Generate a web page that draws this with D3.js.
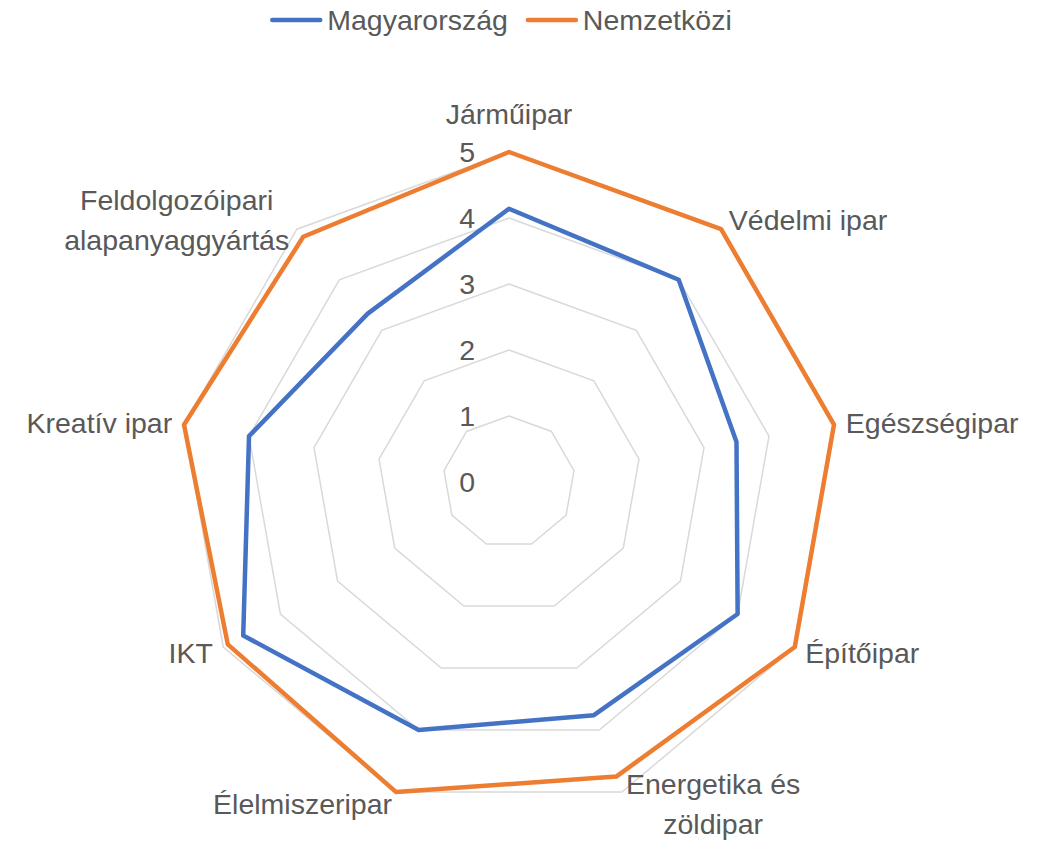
<!DOCTYPE html>
<html>
<head>
<meta charset="utf-8">
<script src="https://d3js.org/d3.v7.min.js"></script>
<style>
  html, body { margin: 0; padding: 0; background: #fff; overflow: hidden; }
  text { font-family: "Liberation Sans", Arial, sans-serif; fill: #595959; }
</style>
<title>radar</title>
</head>
<body>
<svg id="chart" width="1043" height="842"></svg>
<script>
// categories, clockwise from the top
const categories = [
  "Járműipar",
  "Védelmi ipar",
  "Egészségipar",
  "Építőipar",
  "Energetika és\nzöldipar",
  "Élelmiszeripar",
  "IKT",
  "Kreatív ipar",
  "Feldolgozóipari\nalapanyaggyártás"
];
const seriesNames = ["Magyarország", "Nemzetközi"];
const magyarorszag = [4.14, 4.0, 3.5, 4.0, 3.76, 4.0, 4.65, 4.0, 3.33];
const nemzetkozi = [5, 5, 5, 5, 4.75, 5, 4.92, 5, 4.85];
const tickValues = [0, 1, 2, 3, 4, 5];

const colors = ["#4472C4", "#ED7D31"];
const fontSize = 28.5;
const cx = 509, cy = 482, R = 330;

const svg = d3.select("#chart");

const r = d3.scaleLinear().domain([0, 5]).range([0, R]);
const angle = d3.scaleLinear().domain([0, categories.length]).range([0, 2 * Math.PI]);

const g = svg.append("g").attr("transform", "translate(" + cx + "," + cy + ")");

// grid rings
const ring = d3.lineRadial()
  .angle((d, i) => angle(i))
  .radius(d => r(d))
  .curve(d3.curveLinearClosed);

g.selectAll(".ring")
  .data(tickValues.filter(t => t > 0))
  .enter()
  .append("path")
  .attr("class", "ring")
  .attr("d", t => ring(categories.map(() => t)))
  .style("fill", "none")
  .style("stroke", "#d9d9d9")
  .style("stroke-width", "1.5px");

// series
const series = [magyarorszag, nemzetkozi];
g.selectAll(".series")
  .data(series)
  .enter()
  .append("path")
  .attr("class", "series")
  .attr("d", d => ring(d))
  .style("fill", "none")
  .style("stroke", (d, i) => colors[i])
  .style("stroke-width", "4.5px")
  .style("stroke-linejoin", "round");

// tick labels
g.selectAll(".tick")
  .data(tickValues)
  .enter()
  .append("text")
  .attr("class", "tick")
  .attr("x", -34)
  .attr("y", t => -r(t) + fontSize * 0.36)
  .attr("text-anchor", "end")
  .style("font-size", fontSize + "px")
  .text(t => t);

// category labels
const lineH = 40;
categories.forEach((cat, i) => {
  const a = angle(i);
  const s = Math.sin(a), c = Math.cos(a);
  const px = (R + 12) * s;
  let py = -(R + 12) * c;
  const lines = cat.split("\n");
  let anchor = "middle";
  if (Math.abs(s) < 0.1) {
    py -= c * lineH * 0.65;
  } else {
    anchor = s > 0 ? "start" : "end";
  }
  const txt = g.append("text")
    .attr("class", "cat")
    .style("font-size", fontSize + "px")
    .attr("text-anchor", "middle");
  const spans = lines.map((l, k) => txt.append("tspan")
    .attr("y", py + (k - (lines.length - 1) / 2) * lineH + fontSize * 0.36)
    .text(l));
  const widths = spans.map(sp => sp.node().getComputedTextLength());
  const w = d3.max(widths);
  const midX = anchor === "start" ? px + w / 2 : anchor === "end" ? px - w / 2 : px;
  spans.forEach(sp => sp.attr("x", midX));
});

// legend
const legend = svg.append("g");
let lx = 0;
seriesNames.forEach((name, i) => {
  const item = legend.append("g").attr("transform", "translate(" + lx + ",0)");
  item.append("line")
    .attr("x1", 2).attr("x2", 50)
    .attr("y1", 20).attr("y2", 20)
    .style("stroke", colors[i])
    .style("stroke-width", "4.5px")
    .style("stroke-linecap", "round");
  const t = item.append("text")
    .attr("x", 57)
    .attr("y", 20 + fontSize * 0.36)
    .style("font-size", fontSize + "px")
    .text(name);
  lx += 57 + t.node().getComputedTextLength() + 18;
});
const legendW = lx - 18;
legend.attr("transform", "translate(" + (501 - legendW / 2) + ",0)");
</script>
</body>
</html>
